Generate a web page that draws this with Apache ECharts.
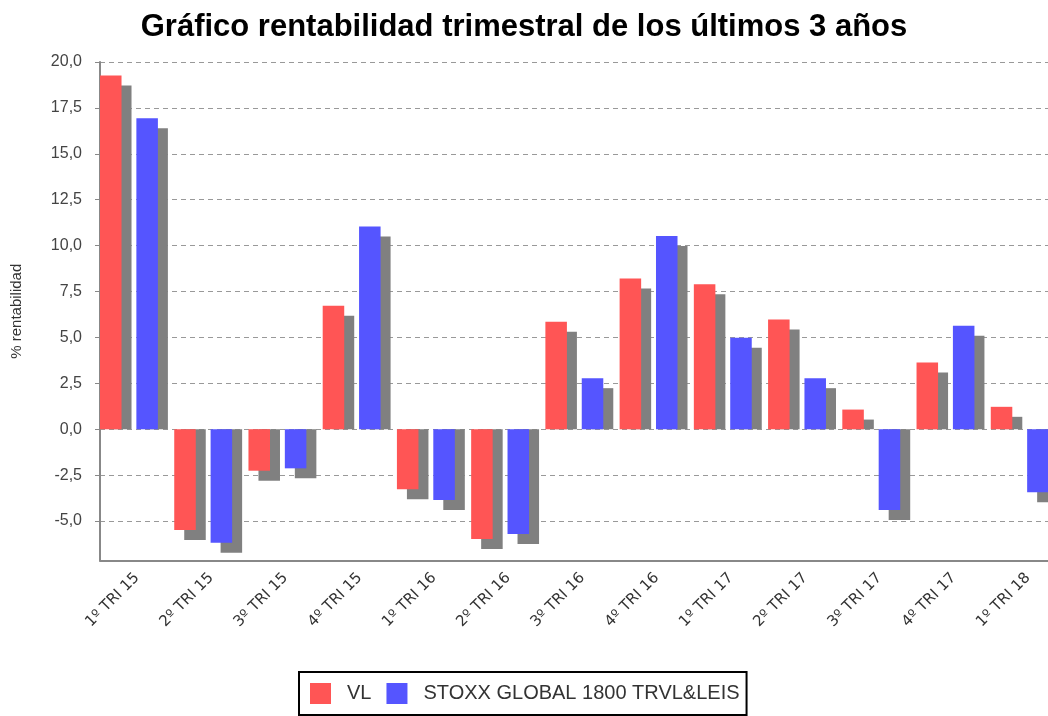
<!DOCTYPE html>
<html>
<head>
<meta charset="utf-8">
<title>Rentabilidad trimestral</title>
<script src="https://cdn.jsdelivr.net/npm/echarts@6/dist/echarts.min.js"></script>
<style>
    html, body { margin: 0; padding: 0; background: #fff; }
    #main { width: 1048px; height: 716px; }
</style>
</head>
<body>
<div id="main"></div>
<script>
// datos
var categorias = ['1º TRI 15', '2º TRI 15', '3º TRI 15', '4º TRI 15', '1º TRI 16', '2º TRI 16', '3º TRI 16',
    '4º TRI 16', '1º TRI 17', '2º TRI 17', '3º TRI 17', '4º TRI 17', '1º TRI 18'];
var vl = [19.27, -5.49, -2.26, 6.72, -3.27, -5.98, 5.85, 8.21, 7.90, 5.97, 1.07, 3.63, 1.22];
var stoxx = [16.93, -6.18, -2.13, 11.04, -3.85, -5.71, 2.78, 10.53, 4.98, 2.78, -4.40, 5.63, -3.43];
var nombres = ['VL', 'STOXX GLOBAL 1800 TRVL&LEIS'];
// marcas del eje Y
var marcas = [-5, -2.5, 0, 2.5, 5, 7.5, 10, 12.5, 15, 17.5, 20];

// barra + sombra gris (efecto 3D)
function pintarBarra(inicio) {
    return function (params, api) {
        var i = api.value(0);
        var v = api.value(1);
        var p = api.coord([i, v]);
        var cero = api.coord([i, 0]);
        var bw = api.size([1, 0])[0];
        var x = p[0] - bw / 2 + inicio * bw;
        var w = bw * 0.29;
        var ySombra = p[1] + 10;
        return {
            type: 'group',
            children: [{
                type: 'rect',
                shape: { x: x + 10, y: Math.min(cero[1], ySombra), width: w, height: Math.abs(ySombra - cero[1]) },
                style: { fill: '#808080' }
            }, {
                type: 'rect',
                shape: { x: x, y: Math.min(cero[1], p[1]), width: w, height: Math.abs(p[1] - cero[1]) },
                style: { fill: api.visual('color') }
            }]
        };
    };
}

function datos(arr) {
    var d = [];
    arr.forEach(function (item, index) {
        d.push([index, item]);
    });
    return d;
}

var option = {
    animation: false,
    title: {
        text: 'Gráfico rentabilidad trimestral de los últimos 3 años',
        left: 'center',
        top: 7,
        textStyle: { fontFamily: 'Liberation Sans', fontWeight: 'bold', fontSize: 31, color: '#000' }
    },
    legend: {
        left: 299,
        top: 672,
        padding: [11, 7, 11, 11],
        borderColor: '#000',
        borderWidth: 2,
        backgroundColor: '#fff',
        itemWidth: 21,
        itemHeight: 21,
        itemGap: 15,
        icon: 'rect',
        textStyle: { fontFamily: 'Liberation Sans', fontSize: 20, color: '#333', padding: [0, 0, 0, 11] },
        data: nombres
    },
    // el gráfico original queda cortado por la derecha
    grid: { left: 100, top: 62, width: 965, height: 498.5, outerBoundsMode: 'none' },
    xAxis: {
        type: 'category',
        data: categorias,
        axisLine: { onZero: false, lineStyle: { color: '#888', width: 2 } },
        axisTick: { show: false },
        axisLabel: { rotate: 45, margin: 15, fontFamily: 'DejaVu Sans', fontSize: 15, color: '#333' }
    },
    yAxis: {
        type: 'value',
        min: -7.15,
        max: 20,
        name: '% rentabilidad',
        nameLocation: 'middle',
        nameGap: 76,
        nameTextStyle: { fontFamily: 'Liberation Sans', fontSize: 15, color: '#333' },
        axisLine: { show: true, lineStyle: { color: '#888', width: 2 } },
        axisTick: { show: true, length: 5, lineStyle: { color: '#888' }, customValues: marcas },
        axisLabel: {
            margin: 18,
            fontFamily: 'Liberation Sans',
            fontSize: 16,
            color: '#444',
            customValues: marcas,
            formatter: function (v) {
                return v.toFixed(1).replace('.', ',');
            }
        },
        splitLine: { lineStyle: { color: '#999', type: [5, 4] } }
    },
    series: [{
        name: nombres[0],
        type: 'custom',
        itemStyle: { color: '#ff5555' },
        renderItem: pintarBarra(0),
        encode: { x: 0, y: 1 },
        data: datos(vl)
    }, {
        name: nombres[1],
        type: 'custom',
        itemStyle: { color: '#5555ff' },
        renderItem: pintarBarra(0.49),
        encode: { x: 0, y: 1 },
        data: datos(stoxx)
    }]
};

var myChart = echarts.init(document.getElementById('main'));
myChart.setOption(option);
</script>
</body>
</html>
